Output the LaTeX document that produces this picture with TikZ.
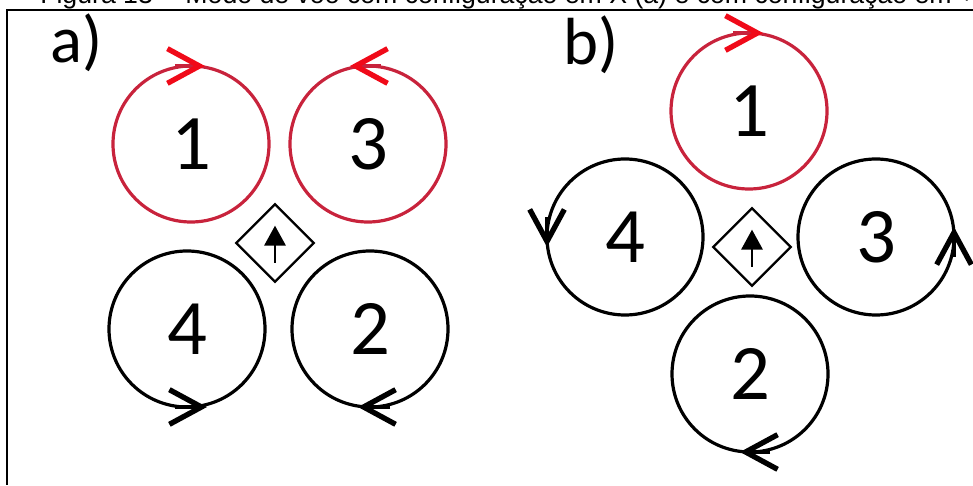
\documentclass[tikz,border=0pt]{standalone}
\usepackage{fontspec}
\setmainfont{Carlito}
\newfontfamily\captionfont{Liberation Sans}
\usetikzlibrary{shapes.geometric,arrows.meta}
\definecolor{rotorred}{RGB}{200,35,60}
\definecolor{tipred}{RGB}{240,10,25}

\begin{document}
\begin{tikzpicture}[x=0.75pt, y=0.75pt,
  rotor/.style={draw, circle, line width=2.4pt, minimum size=117pt, inner sep=0pt, outer sep=0pt, font=\fontsize{59}{60}\selectfont},
  spin/.style={line width=2.4pt, -{Straight Barb[length=24pt, width=26pt, line width=4pt, color=#1]}},
  spin/.default=black,
  body/.style={draw, diamond, line width=1.7pt, minimum size=58pt, inner sep=0pt, outer sep=0pt},
  nose/.style={line width=1.7pt, -{Triangle[length=15pt, width=16pt]}},
  panel/.style={anchor=base west, inner sep=0pt, font=\fontsize{50}{50}\selectfont}]
  \useasboundingbox (0,0) rectangle (973,485);
  \clip (0,0) rectangle (973,485);
  % caption (cut by the page) and frame
  \node[anchor=base west, inner sep=0pt, font=\captionfont\fontsize{20}{20}\selectfont] (cap) at (40,481)
    {Figura 13 -- Modo de voo com configuração em X (a) e com configuração em +};
  \draw[line width=1.6pt] (973,475) -- (7,475) -- (7,0);

  % a) X configuration
  \node[panel] (la) at (50,422) {a)};
  \node[rotor, rotorred, text=black] (a1) at (191,341) {1};
  \node[rotor, rotorred, text=black] (a3) at (368,341) {3};
  \node[rotor] (a4) at (187,156) {4};
  \node[rotor] (a2) at (370,156) {2};
  \node[body] (da) at (275,242) {};
  \draw[nose] ([yshift=-15pt]da.center) -- ([yshift=13pt]da.center);
  \draw[spin=tipred, rotorred] ([xshift=-12pt]a1.north) -- ([xshift=10.5pt]a1.north);
  \draw[spin=tipred, rotorred] ([xshift=10pt]a3.north) -- ([xshift=-13.5pt]a3.north);
  \draw[spin] ([xshift=-9pt]a4.south) -- ([xshift=15pt]a4.south);
  \draw[spin] ([xshift=15pt]a2.south) -- ([xshift=-9pt]a2.south);

  % b) + configuration
  \node[panel] (lb) at (563,420) {b)};
  \node[rotor, rotorred, text=black] (b1) at (749,374) {1};
  \node[rotor] (b4) at (625,248) {4};
  \node[rotor] (b3) at (876,248) {3};
  \node[rotor] (b2) at (750,111) {2};
  \node[body] (db) at (752,238) {};
  \draw[nose] ([yshift=-15pt]db.center) -- ([yshift=13pt]db.center);
  \draw[spin=tipred, rotorred] ([xshift=-12pt]b1.north) -- ([xshift=10.5pt]b1.north);
  \draw[spin] ([yshift=15pt]b4.west) -- ([yshift=-7.5pt]b4.west);
  \draw[spin] ([yshift=-15pt]b3.east) -- ([yshift=7.5pt]b3.east);
  \draw[spin] ([xshift=15pt]b2.south) -- ([xshift=-7.5pt]b2.south);
\end{tikzpicture}
\end{document}
